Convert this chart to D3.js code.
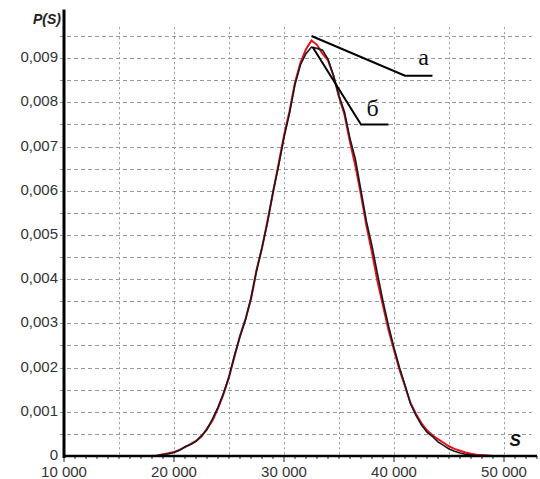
<!DOCTYPE html>
<html>
<head>
<meta charset="utf-8">
<script src="https://cdnjs.cloudflare.com/ajax/libs/d3/7.8.5/d3.min.js"></script>
<style>
  body { margin: 0; background: #fff; }
  svg { display: block; }
  .tick-label { font-family: "Liberation Sans", Arial, sans-serif; font-size: 15px; fill: #333; }
</style>
</head>
<body>
<div id="chart"></div>
<script>
// S values (step 500) and the two distributions, in units of 1e-3
var sValues = [18000, 18500, 19000, 19500, 20000, 20500, 21000, 21500, 22000, 22500,
               23000, 23500, 24000, 24500, 25000, 25500, 26000, 26500, 27000, 27500,
               28000, 28500, 29000, 29500, 30000, 30500, 31000, 31500, 32000, 32500,
               33000, 33500, 34000, 34500, 35000, 35500, 36000, 36500, 37000, 37500,
               38000, 38500, 39000, 39500, 40000, 40500, 41000, 41500, 42000, 42500,
               43000, 43500, 44000, 44500, 45000, 45500, 46000, 46500, 47000, 47500,
               48000, 48500, 49000];
var blackValues = [0, 0.01, 0.03, 0.05, 0.08, 0.13, 0.21, 0.26, 0.33, 0.46,
                   0.6, 0.84, 1.1, 1.42, 1.8, 2.28, 2.7, 3.08, 3.58, 4.18,
                   4.72, 5.28, 5.98, 6.55, 7.2, 7.75, 8.4, 8.85, 9.1, 9.25,
                   9.22, 9.18, 8.98, 8.6, 8.15, 7.78, 7.18, 6.7, 6.0, 5.3,
                   4.75, 4.12, 3.5, 2.95, 2.45, 2.0, 1.6, 1.18, 0.92, 0.7,
                   0.54, 0.44, 0.32, 0.24, 0.16, 0.11, 0.07, 0.04, 0.02, 0.01,
                   0, 0, 0];
var redValues = [0, 0.01, 0.04, 0.06, 0.09, 0.14, 0.2, 0.27, 0.34, 0.44,
                 0.62, 0.8, 1.08, 1.4, 1.78, 2.25, 2.72, 3.1, 3.55, 4.2,
                 4.7, 5.32, 5.95, 6.6, 7.25, 7.8, 8.45, 8.9, 9.2, 9.4,
                 9.3, 9.1, 8.95, 8.6, 8.12, 7.72, 7.1, 6.55, 5.9, 5.2,
                 4.6, 3.95, 3.4, 2.85, 2.4, 1.95, 1.58, 1.2, 0.95, 0.74,
                 0.58, 0.47, 0.38, 0.3, 0.22, 0.16, 0.12, 0.08, 0.05, 0.03,
                 0.02, 0.01, 0];

var xTickValues = [10000, 20000, 30000, 40000, 50000];
var yTickValues = [0, 0.001, 0.002, 0.003, 0.004, 0.005, 0.006, 0.007, 0.008, 0.009];
var yTickLabels = ["0", "0,001", "0,002", "0,003", "0,004", "0,005", "0,006", "0,007", "0,008", "0,009"];

var width = 540, height = 479;

var x = d3.scaleLinear().domain([10000, 53000]).range([64, 537]);
var y = d3.scaleLinear().domain([0, 0.0095]).range([456, 36]);

var svg = d3.select('#chart').append('svg')
  .attr('width', width)
  .attr('height', height);

// grid: horizontal every 0.0005, vertical every 5000
var hGrid = d3.range(1, 20).map(function (i) { return i * 0.0005; });
var vGrid = d3.range(15000, 50001, 5000);

svg.append('g').selectAll('line').data(hGrid).enter().append('line')
  .attr('x1', 60).attr('x2', x(52500))
  .attr('y1', function (d) { return Math.round(y(d)) + 0.5; })
  .attr('y2', function (d) { return Math.round(y(d)) + 0.5; })
  .attr('stroke', '#999')
  .attr('stroke-width', 1)
  .attr('stroke-dasharray', '4,3');

svg.append('g').selectAll('line').data(vGrid).enter().append('line')
  .attr('x1', function (d) { return Math.round(x(d)) + 0.5; })
  .attr('x2', function (d) { return Math.round(x(d)) + 0.5; })
  .attr('y1', y(0.0097)).attr('y2', y(0))
  .attr('stroke', '#999')
  .attr('stroke-width', 1)
  .attr('stroke-dasharray', '2,3');

// curves
var pts = function (vals) {
  return sValues.map(function (s, i) { return [s, vals[i] / 1000]; });
};
var line = d3.line().x(function (d) { return x(d[0]); }).y(function (d) { return y(d[1]); });

svg.append('path')
  .datum(pts(redValues))
  .attr('fill', 'none')
  .attr('stroke', '#e8101a')
  .attr('stroke-width', 2)
  .attr('d', line);

svg.append('path')
  .datum(pts(blackValues))
  .attr('fill', 'none')
  .attr('stroke', '#1a1a1a')
  .attr('stroke-width', 1.6)
  .attr('d', line);

// axes
var xMinor = d3.range(10000, 53001, 1000);
svg.append('g').selectAll('line').data(xMinor).enter().append('line')
  .attr('x1', function (d) { return x(d); })
  .attr('x2', function (d) { return x(d); })
  .attr('y1', y(0))
  .attr('y2', function (d) { return y(0) + (d % 10000 === 0 ? 6 : 3); })
  .attr('stroke', '#222')
  .attr('stroke-width', 1);

svg.append('line')
  .attr('x1', x(10000) - 1).attr('x2', x(53000))
  .attr('y1', y(0)).attr('y2', y(0))
  .attr('stroke', '#000').attr('stroke-width', 2.5);

svg.append('line')
  .attr('x1', x(10000)).attr('x2', x(10000))
  .attr('y1', y(0.0101)).attr('y2', y(0) + 2)
  .attr('stroke', '#000').attr('stroke-width', 3);

svg.append('g').selectAll('text').data(xTickValues).enter().append('text')
  .attr('class', 'tick-label')
  .attr('x', function (d) { return x(d); })
  .attr('y', 477)
  .attr('text-anchor', 'middle')
  .text(function (d) { return d3.format(',')(d).replace(',', ' '); });

svg.append('g').selectAll('text').data(yTickValues).enter().append('text')
  .attr('class', 'tick-label')
  .attr('x', 58)
  .attr('y', function (d) { return y(d) + 4; })
  .attr('text-anchor', 'end')
  .text(function (d, i) { return yTickLabels[i]; });

// axis titles
svg.append('text')
  .attr('x', 61).attr('y', 24)
  .attr('text-anchor', 'end')
  .style('font-family', '"Liberation Sans", Arial, sans-serif')
  .style('font-size', '14px')
  .style('font-weight', 'bold')
  .style('font-style', 'italic')
  .attr('fill', '#222')
  .text('P(S)');

svg.append('text')
  .attr('x', x(50500)).attr('y', 446)
  .style('font-family', '"Liberation Sans", Arial, sans-serif')
  .style('font-size', '17px')
  .style('font-weight', 'bold')
  .style('font-style', 'italic')
  .attr('fill', '#111')
  .text('S');

// annotation leaders
var leaders = [
  { label: 'а', from: [32500, 0.0095], elbow: [41000, 0.0086], end: [43500, 0.0086], text: [42200, 0.00885] },
  { label: 'б', from: [32600, 0.00925], elbow: [37000, 0.0075], end: [39500, 0.0075], text: [37500, 0.0077] }
];

leaders.forEach(function (d) {
  svg.append('polyline')
    .attr('points', [d.from, d.elbow, d.end].map(function (p) { return x(p[0]) + ',' + y(p[1]); }).join(' '))
    .attr('fill', 'none')
    .attr('stroke', '#000')
    .attr('stroke-width', 2);
  svg.append('text')
    .attr('x', x(d.text[0])).attr('y', y(d.text[1]))
    .style('font-family', '"Liberation Serif", "Times New Roman", serif')
    .style('font-size', '24px')
    .attr('fill', '#111')
    .text(d.label);
});
</script>
</body>
</html>
